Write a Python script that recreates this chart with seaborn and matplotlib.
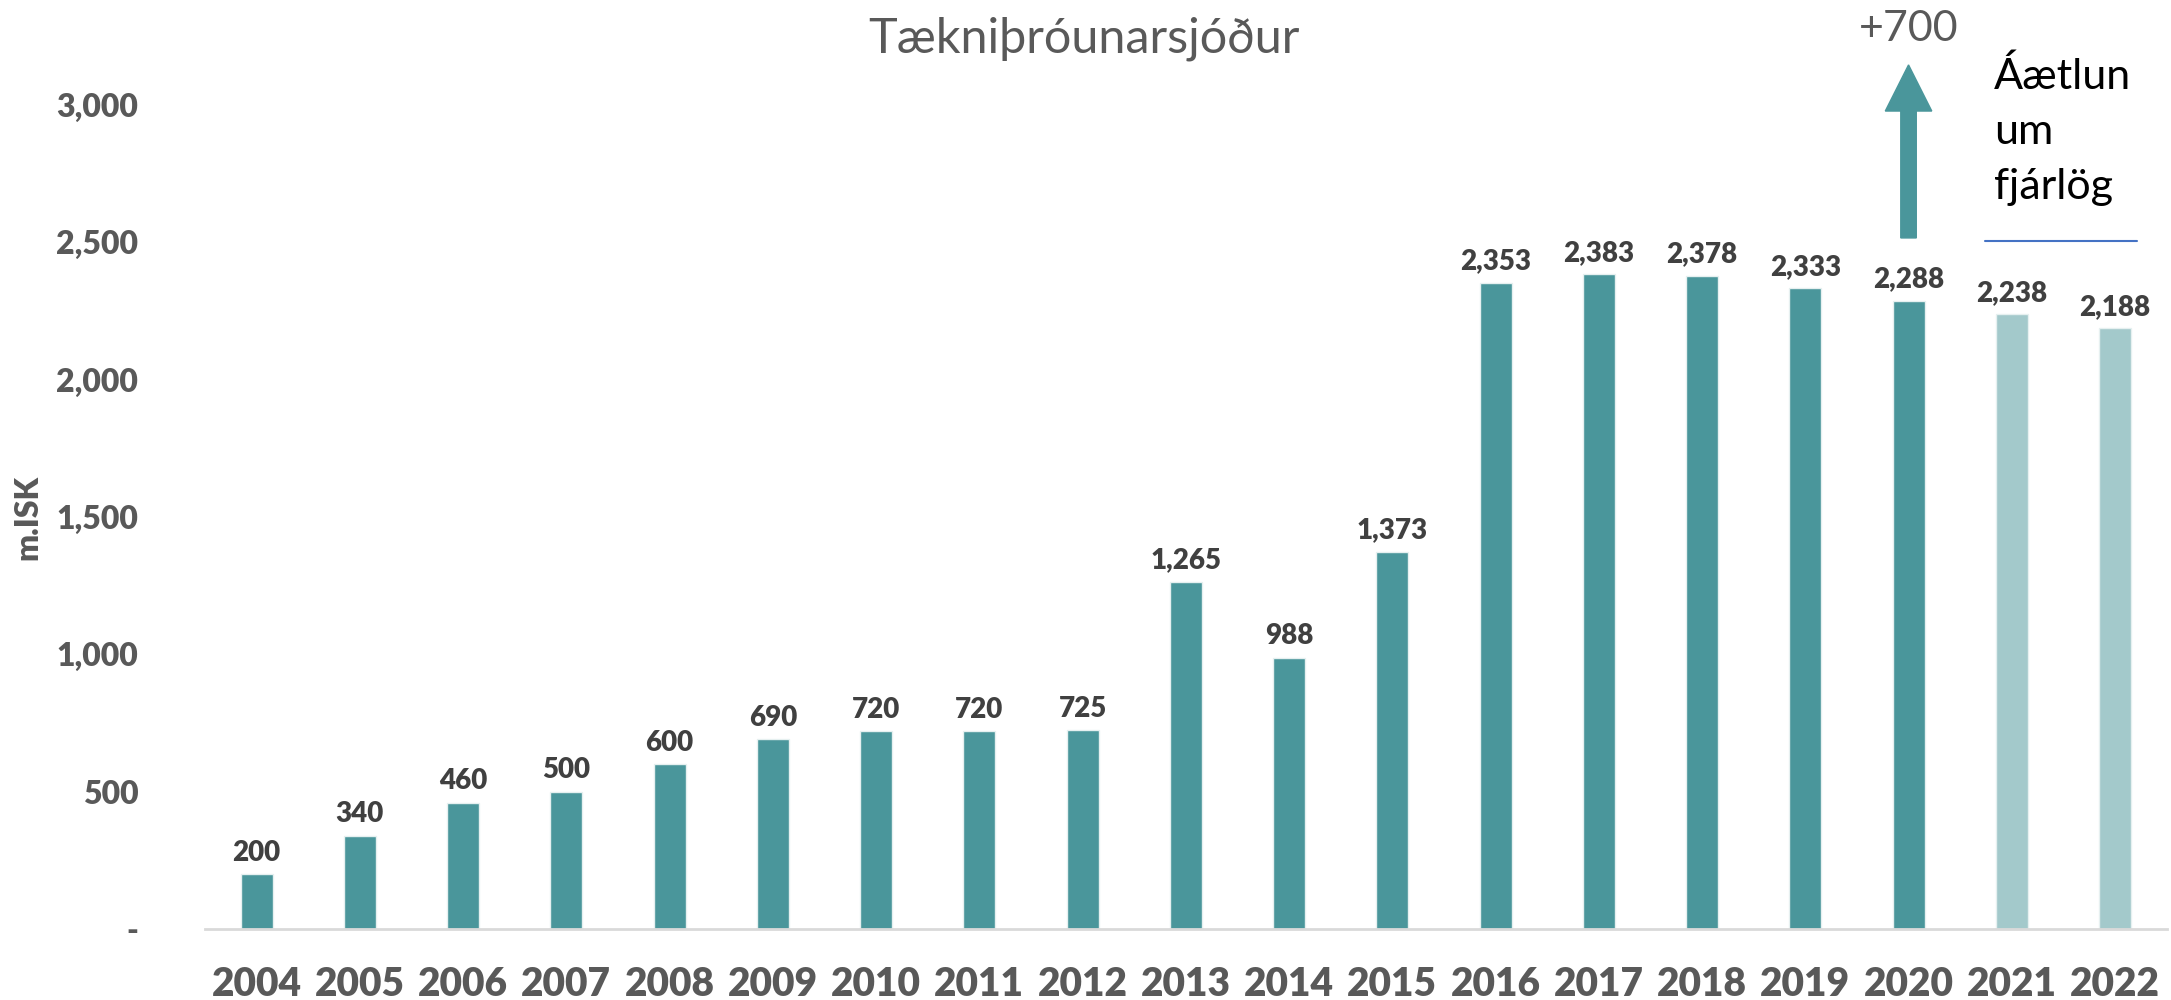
import matplotlib
matplotlib.use('Agg')
import matplotlib.pyplot as plt
import matplotlib.ticker as mticker
import pandas as pd
import seaborn as sns

OUTPUT_FILEPATH = 'out.png'

years = ['2004', '2005', '2006', '2007', '2008', '2009', '2010', '2011', '2012', '2013',
         '2014', '2015', '2016', '2017', '2018', '2019', '2020', '2021', '2022']
values = [200, 340, 460, 500, 600, 690, 720, 720, 725, 1265,
          988, 1373, 2353, 2383, 2378, 2333, 2288, 2238, 2188]
# 2021-2022 eru áætlun
is_plan = [False] * 17 + [True, True]

arrow_year = '2020'
arrow_text = '+700'
plan_text = 'Áætlun\num\nfjárlög'

dark_teal = '#4A969B'
light_teal = '#A3C9CB'
gray = '#595959'

sns.set_style('white')
plt.rcParams['font.family'] = ['Lato', 'DejaVu Sans']

W = 'heavy'


def main():
    df = pd.DataFrame({'year': years, 'value': values, 'plan': is_plan})
    palette = {y: (light_teal if p else dark_teal) for y, p in zip(years, is_plan)}

    fig = plt.figure(figsize=(21.71, 10), dpi=100)
    ax = fig.add_axes([0.0944, 0.071, 0.9036, 0.824])

    sns.barplot(data=df, x='year', y='value', hue='year', palette=palette,
                width=0.31, legend=False, ax=ax, saturation=1,
                edgecolor='#E6F0F0', linewidth=1)

    # gildi ofan á súlunum
    for i, v in enumerate(values):
        ax.annotate(f'{v:,}', (i, v), xytext=(0, 6), textcoords='offset points',
                    ha='center', va='bottom', fontsize=20, fontweight=W, color='#404040')

    ax.set_ylim(0, 3000)
    ax.set_xlim(-0.5, len(years) - 0.5)
    ax.yaxis.set_major_locator(mticker.MultipleLocator(500))
    ax.yaxis.set_major_formatter(mticker.FuncFormatter(lambda v, p: '-' if v == 0 else f'{v:,.0f}'))

    ax.tick_params(axis='y', length=0, pad=48, labelsize=23, labelcolor=gray)
    ax.tick_params(axis='x', length=0, pad=27, labelsize=28, labelcolor=gray)
    for lab in ax.get_xticklabels() + ax.get_yticklabels():
        lab.set_fontweight(W)

    ax.set_xlabel('')
    ax.set_ylabel('m.ISK', fontsize=23, fontweight=W, color=gray, labelpad=10)

    for s in ['top', 'right', 'left']:
        ax.spines[s].set_visible(False)
    ax.spines['bottom'].set_color('#D9D9D9')
    ax.spines['bottom'].set_linewidth(2)

    # titill
    fig.text(0.4995, 0.961, 'Tækniþróunarsjóður', ha='center', va='center',
             fontsize=35, color=gray)

    # ör fyrir aukningu
    xi = years.index(arrow_year)
    ax.arrow(xi, 2516, 0, 630, width=0.15, head_width=0.45, head_length=168,
             length_includes_head=True, color=dark_teal, clip_on=False)
    ax.text(xi, 3275, arrow_text, ha='center', va='center', fontsize=31, color=gray)

    ax.text(16.83, 2906, plan_text, ha='left', va='center', fontsize=31,
            color='black', linespacing=1.55)
    ax.plot([16.74, 18.21], [2505, 2505], color='#4472C4', lw=1.5, clip_on=False)

    plt.savefig(OUTPUT_FILEPATH, dpi=100)


if __name__ == '__main__':
    main()
